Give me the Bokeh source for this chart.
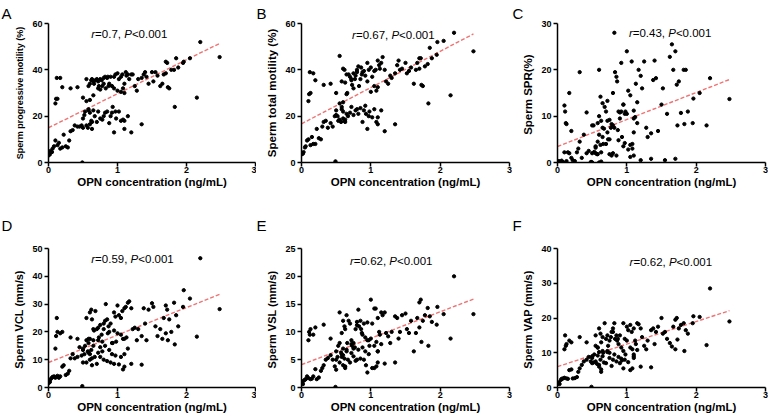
from bokeh.plotting import figure
from bokeh.layouts import column, row
from bokeh.models import Label, FixedTicker, Range1d, Title
from bokeh.embed import file_html
from bokeh.resources import INLINE

# ---------------- data ----------------
opn = [0.00, 0.01, 0.02, 0.03, 0.05, 0.06, 0.08, 0.10, 0.13, 0.15, 0.17, 0.20, 0.22, 0.25, 0.28, 0.30, 0.32, 0.35, 0.38, 0.42,
       0.10, 0.11, 0.13, 0.12, 0.17, 0.20, 0.32, 0.42,
       0.50, 0.55, 0.55, 0.58, 0.60, 0.62, 0.63, 0.65, 0.66, 0.68, 0.70, 0.72, 0.73, 0.75, 0.77, 0.78, 0.80, 0.80, 0.82, 0.83,
       0.85, 0.86, 0.88, 0.90, 0.92, 0.95, 0.97, 1.00, 1.02, 1.05, 1.07, 1.08, 1.10, 1.12, 1.13, 1.15, 1.17, 1.20, 1.22, 1.25,
       1.00, 0.95, 0.87, 0.72, 1.05, 1.10, 0.65, 0.75,
       0.45, 0.48, 0.50, 0.50, 0.52, 0.53, 0.55, 0.57, 0.58, 0.60, 0.60, 0.62, 0.63, 0.63, 0.65, 0.67, 0.70, 0.72, 0.75, 0.78,
       0.80, 0.82, 0.85, 0.88, 0.90, 0.92, 0.93, 0.95, 0.97, 1.02, 1.05, 1.08, 1.10, 1.10, 1.20, 1.35, 0.60, 0.58, 1.15, 0.98,
       1.28, 1.30, 1.35, 1.38, 1.40, 1.42, 1.45, 1.50, 1.52, 1.55, 1.58, 1.62, 1.65, 1.67, 1.70, 1.72, 1.70, 1.73, 1.75, 1.78,
       1.82, 1.83, 1.85, 1.95, 1.96, 2.05, 2.15, 2.20, 2.48, 1.88, 0.49]

prog_motility = [3, 4, 3.5, 5, 4.5, 6, 7, 9.5, 7.5, 8.5, 6, 6.5, 12, 7, 6.5, 9.5, 13.5, 14, 16, 15.5,
                 25.5, 27.5, 27.5, 36.5, 36.5, 32.5, 32, 32.5,
                 28, 26.5, 36, 33, 34, 35.5, 36, 35, 34, 35.5, 36, 35, 33, 36, 35.5, 33, 34, 36.5, 37, 32,
                 36.5, 37, 34, 37, 33, 37, 38, 38.5, 36, 37, 38, 32, 34, 39, 37.5, 38, 36, 38, 38, 33,
                 31, 32, 33, 32, 30.5, 30, 29, 31.5,
                 15.5, 16, 15, 19, 20.5, 22, 16, 15, 23, 21.5, 16.5, 18, 17.5, 14.5, 22.5, 20, 17.5, 22, 19, 18.5,
                 20, 21.5, 22, 17, 20, 21.5, 24, 13, 22, 22, 18, 18.5, 14.5, 18, 13, 16.5, 27, 22.5, 20, 19,
                 31, 36, 36.5, 38, 39, 37, 34, 39, 35, 39, 37.5, 33, 34, 38, 43.5, 43, 38.5, 32.5, 32, 40,
                 40, 24, 45, 43, 43.5, 45, 28, 52, 45.5, 41, 0]

total_motility = [3.5, 4, 3.8, 4.5, 6.5, 7, 9.5, 10, 7.5, 11, 8, 8, 14.5, 10.5, 10, 15.5, 17.5, 18, 15, 17,
                  26.5, 29.5, 30, 39, 38.5, 35.5, 33.5, 34,
                  30, 25.5, 46, 35, 40.5, 40, 34.5, 38, 30, 38, 37, 36, 33.5, 38.5, 36, 37.5, 40, 39, 41.5, 33,
                  36, 41, 39, 39.5, 37.5, 43, 40, 41, 37, 39.5, 40, 31, 44, 42, 40.5, 43, 45.5, 40, 35, 34,
                  30.5, 35, 38, 35.5, 33, 32.5, 29.5, 32,
                  15.5, 20, 20.5, 22.5, 20, 18, 18.5, 17.5, 24, 22, 19, 18, 17.5, 18.5, 21, 20, 21.5, 24, 20.5, 22.5,
                  23, 21, 23.5, 17.5, 22.5, 24.5, 21, 14.5, 20, 19.5, 23, 17.5, 16.5, 19.5, 13.5, 16.5, 26, 23, 22.5, 22,
                  37.5, 36.5, 38.5, 42, 44, 40, 40.5, 43, 38.5, 39.5, 41, 34, 40, 43, 45, 45, 40.5, 33.5, 33, 41.5,
                  42.5, 25.5, 49.5, 46.5, 52, 52.5, 29, 56, 48, 45, 0.5]

spr = [0.2, 0.1, 0.3, 0.0, 0.2, 0.4, 0.1, 2.2, 0.3, 2.2, 2.0, 1.0, 0.5, 0.3, 2.2, 3.0, 4.5, 1.0, 6.0, 2.0,
       12.3, 11, 8.3, 8.5, 15, 6.8, 19.5, 10.8,
       8, 3.5, 2, 1.8, 20, 14.2, 9, 7.5, 4, 12, 11, 13.3, 5, 9.2, 7.5, 1.5, 15, 8, 28, 19.5,
       18.5, 17.5, 11, 10.8, 21.5, 12.5, 4.2, 24, 15.5, 14.5, 21.8, 3, 11.2, 9.8, 17, 13, 20, 18.7, 16, 21.8,
       10.5, 12.5, 7, 6.5, 3.8, 9.5, 12.8, 5,
       2.5, 0.1, 0, 2, 8, 2.3, 3.2, 1.8, 8.5, 6, 0, 3.8, 2.2, 0.2, 5.5, 7.3, 4, 9, 1.8, 8.3,
       2, 7.5, 1.5, 4.8, 9.5, 11, 5.5, 3.5, 10.5, 2.8, 1.2, 4, 1.5, 6.5, 0.5, 0.8, 10, 4.5, 8.5, 11,
       7.5, 5.5, 6.3, 17.8, 22, 18.2, 6.8, 12.5, 16, 0.5, 10.5, 22.8, 25.5, 20, 24, 16.8, 0.8, 8, 17.5, 10.7,
       20, 8.3, 20, 8.5, 13.8, 15, 8, 18.2, 13.7, 11, 0.1]

vcl = [1.5, 2.5, 2.0, 3.0, 3.5, 3.8, 4.0, 3.5, 4.2, 3.5, 4.0, 7.5, 8.0, 4.5, 5.0, 6.0, 10.5, 12, 10.5, 11,
       14, 18.5, 20, 25, 19.5, 20, 18, 17.5,
       14, 17, 25, 17.5, 27, 28, 24.5, 21, 20.5, 27.5, 21, 21.5, 18, 22.5, 19, 16.5, 23, 21, 24, 30,
       24.5, 19.5, 20, 23, 16, 27, 25.5, 29.5, 26, 25, 27.5, 17.5, 28.5, 29, 18, 30.5, 31, 28.5, 21, 21.5,
       19.5, 20.5, 22, 17, 19, 17.5, 15, 14.5,
       14.5, 11.5, 13.5, 9, 12, 15, 9, 13, 12.5, 12, 10, 13.5, 10.5, 8, 17, 11, 8.5, 12.5, 11, 13,
       10, 15, 9.5, 13.5, 9, 12, 16, 8.5, 11.5, 8.3, 11, 6.5, 7.5, 12, 8.5, 8.2, 17.5, 16, 14, 16.5,
       17, 21, 18.5, 28.5, 23, 17, 28, 30.3, 29, 22, 18.5, 21, 17.5, 25, 29.5, 28, 19.5, 17, 24.5, 20,
       30.5, 15.5, 26, 29, 35, 32, 18.3, 46.5, 28.2, 22, 0.5]

vsl = [0.8, 1.0, 0.6, 1.2, 1.4, 1.5, 2.0, 1.7, 1.5, 1.6, 2.0, 3.3, 1.5, 1.8, 3.0, 3.5, 4.0, 5.0, 5.3, 5.8,
       8.5, 10, 10.5, 9.5, 9.5, 10.8, 11.3, 8.8,
       6.5, 8, 13.5, 9.8, 12, 11, 10.5, 13, 8, 12, 11.5, 8.5, 7.5, 8, 7.2, 10.5, 11.8, 11.2, 14, 11,
       12, 10.5, 9.5, 11.5, 9, 11.7, 8.5, 15.8, 11.5, 14.2, 14.2, 8.2, 12.5, 10, 9.5, 13.5, 13, 13.5, 9.8, 9.2,
       8.8, 8.5, 9.8, 7.8, 7.5, 6.5, 6.8, 7,
       5, 3.8, 5, 3.2, 5.5, 7.5, 4.5, 6.3, 5.5, 4, 5.8, 5.2, 3.5, 3.8, 6.5, 5, 4.5, 6.2, 5.6, 4.8,
       5, 6.8, 5.2, 7.2, 5, 6.5, 4, 2.7, 6, 3.5, 3.5, 3.8, 4.5, 6.5, 4.3, 4.5, 7, 6, 7.8, 7.5,
       8, 10, 12.8, 12.5, 8.8, 10, 13, 13.3, 10.5, 9.8, 12, 6.5, 9.8, 12.5, 15.3, 15.8, 10.8, 8.2, 12, 13,
       14.3, 7.5, 12.8, 11.3, 14.5, 13.2, 8.8, 20, 13.2, 11.8, 0.1]

vap = [1.0, 1.2, 1.5, 1.0, 2.2, 2.5, 2.6, 2.8, 2.6, 2.5, 5.0, 5.2, 2.6, 2.7, 3.0, 4.5, 5.5, 6.5, 7.5, 8.0,
       11, 15, 12.5, 12, 13.5, 13, 14.5, 13,
       9, 12, 15, 11.5, 17, 15.5, 13, 14.5, 10, 18.5, 14, 15, 12, 13.5, 14.5, 16, 16, 17, 18.5, 14,
       15, 13.5, 12.5, 15, 11.5, 18.5, 14, 17.5, 16.5, 18, 16, 11, 17, 13.5, 12.5, 18.5, 18.2, 17, 14.5, 12,
       13.5, 10.5, 14, 10.2, 11.5, 9.5, 10.5, 10,
       8.8, 7.5, 8.5, 7, 7.2, 9.5, 7.5, 6.8, 9.2, 6.5, 6, 8, 4.5, 5.2, 9, 7.2, 7, 10.5, 8.5, 6.2,
       8, 9.5, 7.5, 8.8, 7, 8.3, 7.8, 5.5, 8, 7.3, 5, 5.5, 8.5, 9, 6, 5.8, 10.2, 11.5, 10.8, 9.5,
       11, 13.5, 16.5, 17, 12.5, 16, 17.5, 20, 15.5, 16, 14, 12.8, 11.8, 17.5, 19.5, 20, 11, 13.8, 17, 18,
       18.5, 10.5, 16.5, 18.5, 20.5, 20.3, 12.2, 28.5, 19, 15.5, 0.2]

# regression line end points (x from 0 to max OPN)
fit_x = [0, 2.48]
fit_prog = [15.0, 51.4]
fit_total = [16.7, 55.5]
fit_spr = [3.45, 17.9]
fit_vcl = [9.0, 33.5]
fit_vsl = [4.1, 15.9]
fit_vap = [6.0, 22.1]

x_ticks = [0, 1, 2, 3]
r_values = ["0.7", "0.67", "0.43", "0.59", "0.62", "0.62"]
panel_letters = ["A", "B", "C", "D", "E", "F"]
y_labels = ["Sperm progressive motility (%)", "Sperm total motility (%)", "Sperm  SPR(%)",
            "Sperm VCL  (mm/s)", "Sperm VSL  (mm/s)", "Sperm VAP  (mm/s)"]

for arr in [prog_motility, total_motility, spr, vcl, vsl, vap]:
    if len(arr) != len(opn):
        raise SystemExit("length mismatch %d vs %d" % (len(arr), len(opn)))

# ---------------- styling helpers ----------------
FONT = "Liberation Sans"
ARIAL_W = {'r': 333, '=': 584, '.': 278, ',': 278, ' ': 278, 'P': 667, '<': 584}


def text_w(s, fs):
    return sum(ARIAL_W.get(c, 556) for c in s) / 1000.0 * fs


def make_panel(i, ys, fit_y, ymax, yticks, ann_xy, col, rowi, ylab_size):
    FW = 207 if col == 0 else 208
    FH = 139
    L = 48 if col == 0 else 45
    R = 256 - L - FW
    T = 22 if rowi == 0 else 40
    B = 207 - T - FH
    dx = 1 if col == 0 else 0

    p = figure(frame_width=FW, frame_height=FH, min_border_left=L, min_border_right=R,
               min_border_top=T, min_border_bottom=B,
               x_range=Range1d(0, 3), y_range=Range1d(0, ymax),
               output_backend="svg", toolbar_location=None)
    p.title = None
    p.outline_line_color = None
    p.grid.visible = False
    p.background_fill_color = "white"
    p.border_fill_color = "white"

    # panel letter (a spacer title below it lifts the letter in the lower row)
    if rowi == 1:
        p.add_layout(Title(text=" ", text_font=FONT, text_font_size="11px", standoff=1), "above")
    p.add_layout(Title(text=panel_letters[i], align="left", offset=-(L - dx),
                       text_font=FONT, text_font_size="15px", text_font_style="normal",
                       text_color="black", standoff=(4 if rowi == 0 else 0)), "above")

    p.xaxis.ticker = FixedTicker(ticks=x_ticks)
    p.yaxis.ticker = FixedTicker(ticks=yticks)
    for ax in (p.xaxis, p.yaxis):
        ax.axis_line_width = 1.5
        ax.axis_line_color = "black"
        ax.major_tick_line_width = 1.5
        ax.major_tick_line_color = "black"
        ax.major_tick_out = 4
        ax.major_tick_in = 0
        ax.minor_tick_line_color = None
        ax.major_label_text_font = FONT
        ax.major_label_text_font_style = "bold"
        ax.major_label_text_font_size = "9px"
        ax.major_label_text_color = "black"
        ax.axis_label_text_font = FONT
        ax.axis_label_text_font_style = "bold"
        ax.axis_label_text_color = "black"
        ax.major_label_standoff = 0
        ax.axis_label_standoff = 0
    p.yaxis.major_label_standoff = 2
    p.yaxis.axis_label_standoff = 4
    p.xaxis.axis_label = "OPN concentration (ng/mL)"
    p.xaxis.axis_label_text_font_size = "11.5px"
    p.yaxis.axis_label = y_labels[i]
    p.yaxis.axis_label_text_font_size = ylab_size

    p.line(fit_x, fit_y, line_color="#f07272", line_width=1.4, line_dash="4 2")
    p.scatter(opn, ys, size=3.3, color="black")

    # r / P annotation with italic letters
    fs = 11.5
    ax0, ay0 = ann_xy
    pieces = [("r", "italic"), ("=" + r_values[i] + ", ", "normal"), ("P", "italic"), ("<0.001", "normal")]
    off = 0.0
    for txt, style in pieces:
        p.add_layout(Label(x=ax0, y=ay0, x_offset=off, text=txt, text_font=FONT,
                           text_font_style=style, text_font_size="%gpx" % fs,
                           text_baseline="middle", text_align="left", text_color="black"))
        off += text_w(txt, fs)
    return p


pA = make_panel(0, prog_motility, fit_prog, 60, [0, 20, 40, 60], (0.62, 55.5), 0, 0, "9px")
pB = make_panel(1, total_motility, fit_total, 60, [0, 20, 40, 60], (0.73, 55.1), 1, 0, "11.5px")
pC = make_panel(2, spr, fit_spr, 30, [0, 10, 20, 30], (1.03, 28.0), 2, 0, "11.5px")
pD = make_panel(3, vcl, fit_vcl, 50, [0, 10, 20, 30, 40, 50], (0.62, 46.4), 0, 1, "11px")
pE = make_panel(4, vsl, fit_vsl, 25, [0, 5, 10, 15, 20, 25], (0.70, 22.8), 1, 1, "11px")
pF = make_panel(5, vap, fit_vap, 40, [0, 10, 20, 30, 40], (1.04, 36.2), 2, 1, "11px")

layout = column(row(pA, pB, pC), row(pD, pE, pF))
open("out.html", "w").write(file_html(layout, INLINE))
